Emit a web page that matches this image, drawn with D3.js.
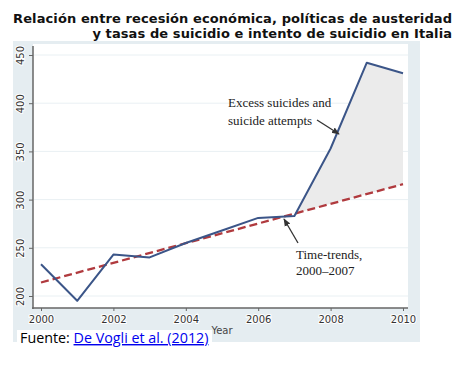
<!DOCTYPE html>
<html><head><meta charset="utf-8">
<script src="https://cdn.jsdelivr.net/npm/d3@7"></script>
<style>body{margin:0;background:#fff}svg{display:block}</style>
</head><body>
<svg id="c" width="476" height="366"></svg>
<script>
const titleLines = ["Relación entre recesión económica, políticas de austeridad", "y tasas de suicidio e intento de suicidio en Italia"];
const years = [2000, 2001, 2002, 2003, 2004, 2005, 2006, 2007, 2008, 2009, 2010];
const suicides = [233, 195, 243, 240, 255, 268, 281, 283, 353, 442, 431];
const trendYears = [2000, 2010];
const trendValues = [214, 316];
const xTicks = [2000, 2002, 2004, 2006, 2008, 2010];
const yTicks = [200, 250, 300, 350, 400, 450];
const excessStartYear = 2007;

const svg = d3.select("#c");
const x = d3.scaleLinear().domain([2000, 2010]).range([41, 403]);
const y = d3.scaleLinear().domain([200, 450]).range([296, 55]);
const trend = d3.scaleLinear().domain(trendYears).range(trendValues);

// title
const tg = svg.append("g").attr("font-family", "DejaVu Sans").attr("font-weight", "bold").attr("fill", "#111").attr("font-size", 13);
const t1 = tg.append("text").attr("x", 452).attr("y", 23).attr("text-anchor", "end").text(titleLines[0]);
const w0 = t1.node().getComputedTextLength();
const ls = (439 - w0) / titleLines[0].length;
t1.attr("letter-spacing", ls);
tg.append("text").attr("x", 452 + ls).attr("y", 38).attr("text-anchor", "end").attr("letter-spacing", ls).text(titleLines[1]);
t1.attr("x", 452 + ls);

// panel
svg.append("rect").attr("x", 13).attr("y", 41).attr("width", 407).attr("height", 301).attr("fill", "#e5edf1");
svg.append("rect").attr("x", 33).attr("y", 44).attr("width", 375).attr("height", 264).attr("fill", "#fff");

// grid
svg.append("g").selectAll("line").data(yTicks).join("line")
  .attr("x1", 34).attr("x2", 408).attr("y1", d => y(d)).attr("y2", d => y(d))
  .attr("stroke", "#e9f0f3").attr("stroke-width", 1);

// excess area
const ex = years.map((yr, i) => ({yr, v: suicides[i]})).filter(d => d.yr >= excessStartYear);
svg.append("path").datum(ex)
  .attr("d", d3.area().x(d => x(d.yr)).y0(d => y(trend(d.yr))).y1(d => y(d.v)))
  .attr("fill", "#ebebeb");

// axes
const yAxis = svg.append("g").attr("transform", "translate(33,0)")
  .call(d3.axisLeft(y).tickValues(yTicks).tickSize(4).tickPadding(3));
yAxis.select(".domain").remove();
yAxis.selectAll(".tick line").attr("stroke", "#666");
yAxis.selectAll(".tick text")
  .attr("x", null).attr("dy", null)
  .attr("text-anchor", "middle")
  .attr("transform", "translate(-13,0) rotate(-90)")
  .attr("dy", "0.35em")
  .attr("font-family", "DejaVu Sans").attr("font-size", 10).attr("fill", "#333")
  .attr("stroke", "#fff").attr("stroke-width", 2).attr("paint-order", "stroke");
svg.append("line").attr("x1", 33).attr("x2", 33).attr("y1", 46).attr("y2", 309).attr("stroke", "#666").attr("stroke-width", 1.5);

const xAxis = svg.append("g").attr("transform", "translate(0,308)")
  .call(d3.axisBottom(x).tickValues(xTicks).tickFormat(d3.format("d")).tickSize(3).tickPadding(5));
xAxis.select(".domain").remove();
xAxis.selectAll(".tick line").attr("stroke", "#666");
xAxis.selectAll(".tick text").attr("font-family", "DejaVu Sans").attr("font-size", 10).attr("fill", "#333")
  .attr("stroke", "#fff").attr("stroke-width", 2).attr("paint-order", "stroke");
svg.append("line").attr("x1", 32).attr("x2", 408).attr("y1", 308).attr("y2", 308).attr("stroke", "#666").attr("stroke-width", 1.5);

svg.append("text").attr("x", 222).attr("y", 334).attr("text-anchor", "middle")
  .attr("font-family", "DejaVu Sans").attr("font-size", 10).attr("fill", "#444").text("Year");

// trend line
svg.append("path").datum(trendYears)
  .attr("d", d3.line().x(d => x(d)).y(d => y(trend(d))))
  .attr("fill", "none").attr("stroke", "#b03a3e").attr("stroke-width", 2.3).attr("stroke-dasharray", "8,4");

// data line
svg.append("path").datum(years)
  .attr("d", d3.line().x(d => x(d)).y((d, i) => y(suicides[i])))
  .attr("fill", "none").attr("stroke", "#3b5588").attr("stroke-width", 2).attr("stroke-linejoin", "round");

// annotations
const defs = svg.append("defs");
defs.append("marker").attr("id", "ah").attr("viewBox", "0 0 10 10").attr("refX", 9).attr("refY", 5)
  .attr("markerWidth", 6).attr("markerHeight", 6).attr("orient", "auto")
  .append("path").attr("d", "M0,1 L10,5 L0,9 Z").attr("fill", "#333");

const ag = svg.append("g").attr("font-family", "Liberation Serif").attr("font-size", 13).attr("fill", "#222");
ag.append("text").attr("x", 228).attr("y", 107).text("Excess suicides and");
ag.append("text").attr("x", 228).attr("y", 125).text("suicide attempts");
ag.append("text").attr("x", 296).attr("y", 259).text("Time-trends,");
ag.append("text").attr("x", 296).attr("y", 275).text("2000\u20132007");
svg.append("line").attr("x1", 317).attr("y1", 120).attr("x2", 339).attr("y2", 134)
  .attr("stroke", "#333").attr("stroke-width", 1.3).attr("marker-end", "url(#ah)");
svg.append("line").attr("x1", 298).attr("y1", 243).attr("x2", 284).attr("y2", 219)
  .attr("stroke", "#333").attr("stroke-width", 1.3).attr("marker-end", "url(#ah)");

// source box
svg.append("rect").attr("x", 17).attr("y", 330).attr("width", 195).attr("height", 20).attr("fill", "#fff");
const src = svg.append("text").attr("x", 20).attr("y", 343).attr("font-family", "Open Sans").attr("font-size", 14.3);
src.append("tspan").attr("fill", "#000").text("Fuente: ");
src.append("tspan").attr("fill", "#0000ee").attr("text-decoration", "underline").text("De Vogli et al. (2012)");
</script>
</body></html>
